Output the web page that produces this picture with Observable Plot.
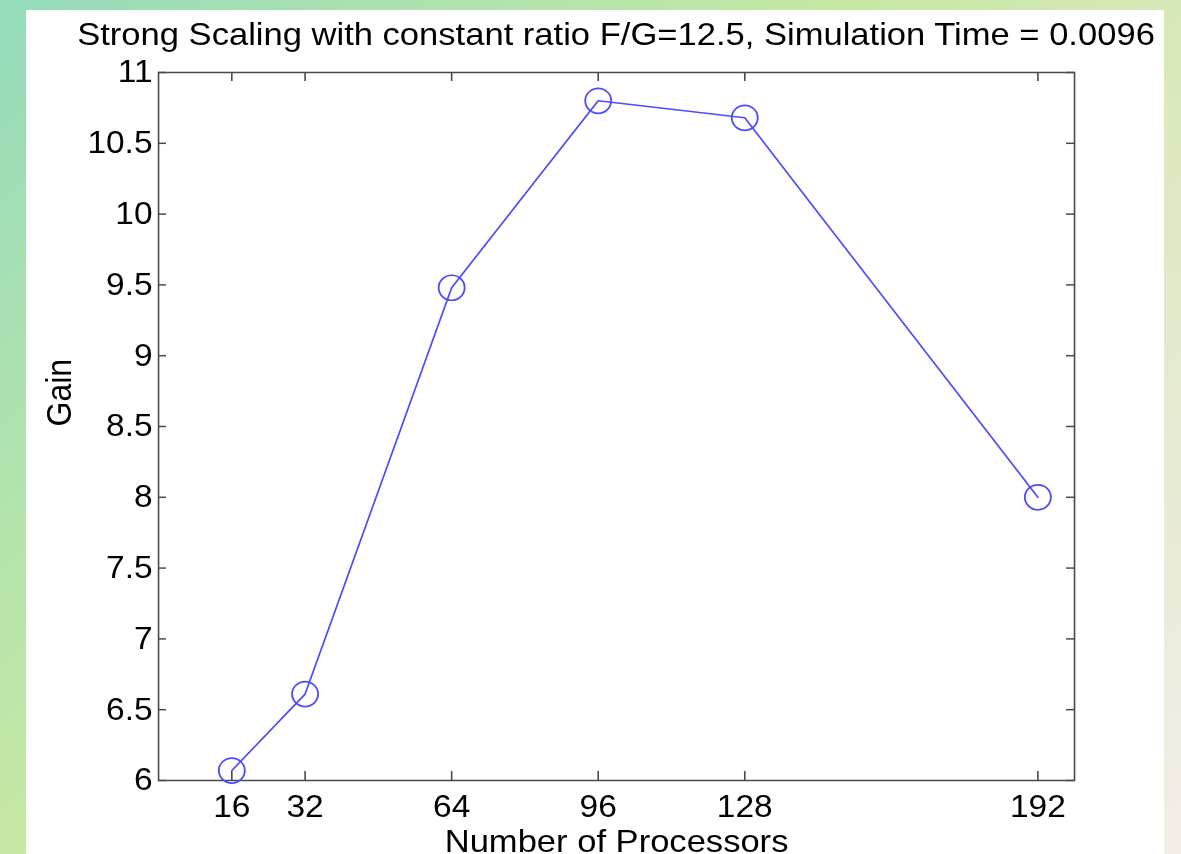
<!DOCTYPE html>
<html>
<head>
<meta charset="utf-8">
<script src="https://cdn.jsdelivr.net/npm/d3@7"></script>
<script src="https://cdn.jsdelivr.net/npm/@observablehq/plot@0.6"></script>
<style>
  html, body { margin: 0; padding: 0; width: 1181px; height: 854px; overflow: hidden; }
  body {
    background: linear-gradient(135deg, #94dbbb 0%, #c6e8a2 42%, #dbe8bd 62%, #f3ede9 100%);
    font-family: "Liberation Sans", Arial, sans-serif;
  }
  #panel { position: absolute; left: 26px; top: 10px; width: 1138px; height: 844px; background: #fff; overflow: hidden; }
  #stretch { position: absolute; left: 0; top: 0; transform-origin: 0 0; }
  #title { position: absolute; top: 8px; font-size: 32px; line-height: 32px; color: #000; text-align: center; white-space: nowrap; }
  #chart { position: absolute; top: 52px; left: 0; }
  #chart svg { overflow: visible; }
</style>
</head>
<body>
<div id="panel"><div id="stretch"><div id="title"></div><div id="chart"></div></div></div>
<script>
// Strong scaling measurements
const processors = [16, 32, 64, 96, 128, 192];
const gain = [6.07, 6.61, 9.48, 10.80, 10.68, 8.00];

const xTicks = [16, 32, 64, 96, 128, 192];
const yTicks = [6, 6.5, 7, 7.5, 8, 8.5, 9, 9.5, 10, 10.5, 11];
const yTickLabels = ["6", "6.5", "7", "7.5", "8", "8.5", "9", "9.5", "10", "10.5", "11"];

const titleText = "Strong Scaling with constant ratio F/G=12.5, Simulation Time = 0.0096";
const xLabel = "Number of Processors";
const yLabel = "Gain";

const rows = processors.map((p, i) => ({processors: p, gain: gain[i]}));

// the figure is drawn slightly wide, as exported
const sx = 1.08;
const panelW = 1138, panelH = 792;
const width = panelW / sx;
const marginLeft = 132 / sx, marginRight = 90 / sx, marginTop = 10, marginBottom = 74;
const innerW = width - marginLeft - marginRight;
const innerH = panelH - marginTop - marginBottom;
const tickV = 9, tickH = 8 / sx;
const axisColor = "#4a4a4a";
const lineColor = "#4c4cff";
const font = "\"Liberation Sans\", Arial, sans-serif";

// open circle marker, narrowed so it stays nearly round after the stretch
const roundMarker = {
  draw(context, size) {
    const ry = Math.sqrt(size / Math.PI);
    const rx = ry * 1.04 / sx;
    const k = 0.5523;
    context.moveTo(rx, 0);
    context.bezierCurveTo(rx, k * ry, k * rx, ry, 0, ry);
    context.bezierCurveTo(-k * rx, ry, -rx, k * ry, -rx, 0);
    context.bezierCurveTo(-rx, -k * ry, -k * rx, -ry, 0, -ry);
    context.bezierCurveTo(k * rx, -ry, rx, -k * ry, rx, 0);
    context.closePath();
  }
};

const stretch = document.getElementById("stretch");
stretch.style.width = width + "px";
stretch.style.transform = `scaleX(${sx})`;

// title centred over the axes box
const title = document.getElementById("title");
title.textContent = titleText;
const titleBox = 1200 / sx;
title.style.left = (marginLeft + innerW / 2 - titleBox / 2) + "px";
title.style.width = titleBox + "px";

const chart = Plot.plot({
  width,
  height: panelH,
  marginLeft, marginRight, marginTop, marginBottom,
  style: {fontFamily: font, fontSize: "31px", color: "#000", background: "transparent"},
  x: {type: "linear", domain: [0, 200]},
  y: {type: "linear", domain: [6, 11]},
  marks: [
    Plot.axisX(xTicks, {tickSize: 0, tickPadding: 14, tickFormat: d => String(d), label: null, fontSize: 31}),
    Plot.axisY(yTicks, {tickSize: 0, tickPadding: 6 / sx, tickFormat: (d, i) => yTickLabels[i], label: null, fontSize: 31}),
    // inward ticks on all four sides of the box
    Plot.tickX(xTicks, {x: d => d, insetTop: innerH - tickV, stroke: axisColor, strokeWidth: 1.5}),
    Plot.tickX(xTicks, {x: d => d, insetBottom: innerH - tickV, stroke: axisColor, strokeWidth: 1.5}),
    Plot.tickY(yTicks, {y: d => d, insetRight: innerW - tickH, stroke: axisColor, strokeWidth: 1.5}),
    Plot.tickY(yTicks, {y: d => d, insetLeft: innerW - tickH, stroke: axisColor, strokeWidth: 1.5}),
    Plot.frame({stroke: axisColor, strokeWidth: 1.5}),
    Plot.line(rows, {x: "processors", y: "gain", stroke: lineColor, strokeWidth: 1.6}),
    Plot.dot(rows, {x: "processors", y: "gain", r: 12.5, symbol: roundMarker, stroke: lineColor, strokeWidth: 1.7, fill: "none"}),
    Plot.text([xLabel], {frameAnchor: "bottom", lineAnchor: "top", dy: 49, fontSize: 32, fill: "#000"}),
    Plot.text([yLabel], {frameAnchor: "left", lineAnchor: "middle", rotate: -90, dx: -99 / sx, fontSize: 32, fill: "#000"})
  ]
});
document.getElementById("chart").appendChild(chart);
</script>
</body>
</html>
